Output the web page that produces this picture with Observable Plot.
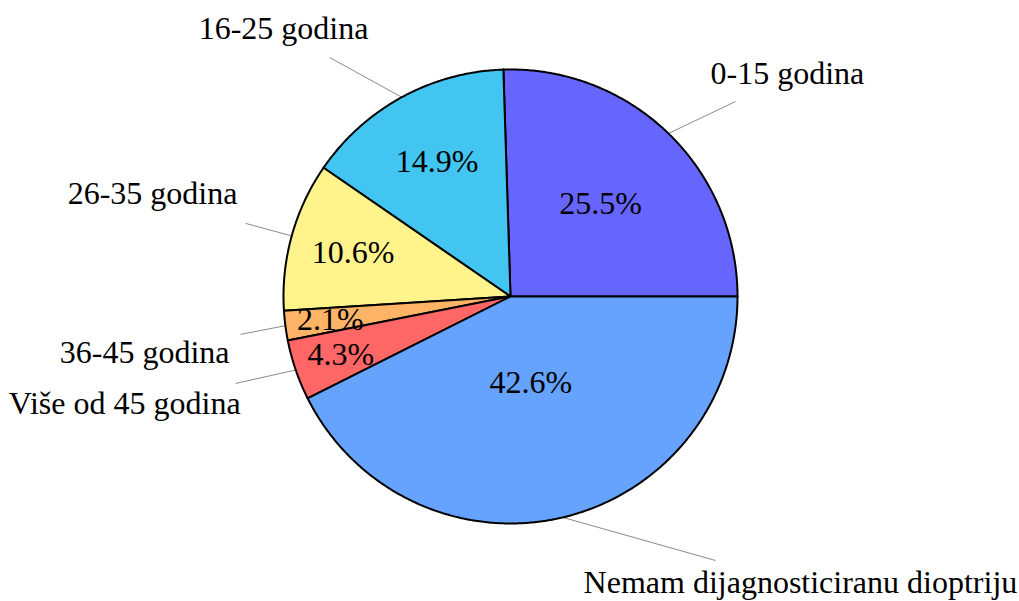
<!DOCTYPE html>
<html><head><meta charset="utf-8">
<script src="https://cdn.jsdelivr.net/npm/d3@7"></script>
<script src="https://cdn.jsdelivr.net/npm/@observablehq/plot@0.6"></script>
<style>html,body{margin:0;padding:0;background:#fff;} #chart svg{display:block}</style>
</head><body><div id="chart"></div>
<script>
// ---- data ----
const categories = ["0-15 godina","16-25 godina","26-35 godina","36-45 godina","Više od 45 godina","Nemam dijagnosticiranu dioptriju"];
const shares = [25.5, 14.9, 10.6, 2.1, 4.3, 42.6];
const colors = ["#6666ff","#42c6f1","#fff48c","#ffb366","#ff6666","#66a3ff"];

// ---- layout (in units of pie radius) ----
const W = 1019, H = 601, R = 227, CX = 510, CY = 296;
const FONT = "'Liberation Serif', 'Times New Roman', serif";
const FS = 32;
const pctRadius = [0.57, 0.675, 0.72, 0.80, 0.79, 0.39];
const leaderEnd = [[0.991,0.859],[-0.797,1.053],[-1.167,0.322],[-1.189,-0.167],[-1.211,-0.383],[0.903,-1.163]];
const labelPos = [[0.881,0.982],[-0.626,1.181],[-1.203,0.454],[-1.238,-0.247],[-1.189,-0.471],[0.322,-1.260]];
const labelAnchor = ["start","end","end","end","end","start"];

let cum = 0;
const slices = shares.map((v, i) => {
  const a0 = cum / 100 * 2 * Math.PI; cum += v;
  const a1 = cum / 100 * 2 * Math.PI;
  return {i, cat: categories[i], v, a0, a1, mid: (a0 + a1) / 2};
});
const pts = [];
for (const s of slices) {
  pts.push({cat: s.cat, x: 0, y: 0});
  const n = Math.max(2, Math.ceil((s.a1 - s.a0) / (Math.PI / 360)));
  for (let k = 0; k <= n; k++) {
    const a = s.a0 + (s.a1 - s.a0) * k / n;
    pts.push({cat: s.cat, x: Math.cos(a), y: Math.sin(a)});
  }
}

const chart = Plot.plot({
  width: W, height: H, margin: 0,
  x: {domain: [-CX / R, (W - CX) / R], axis: null},
  y: {domain: [-(H - CY) / R, CY / R], axis: null},
  color: {domain: categories, range: colors},
  style: {fontFamily: FONT, background: "#fff"},
  marks: [
    Plot.link(slices, {
      x1: d => Math.cos(d.mid), y1: d => Math.sin(d.mid),
      x2: d => leaderEnd[d.i][0], y2: d => leaderEnd[d.i][1],
      stroke: "#8a8a8a", strokeWidth: 1
    }),
    Plot.line(pts, {x: "x", y: "y", z: "cat", fill: "cat", stroke: "black", strokeWidth: 2, curve: "linear-closed", strokeLinejoin: "round"}),
    Plot.text(slices, {
      x: d => pctRadius[d.i] * Math.cos(d.mid), y: d => pctRadius[d.i] * Math.sin(d.mid),
      text: d => d.v.toFixed(1) + "%", fontSize: FS, fill: "black"
    }),
    Plot.text(slices.filter(d => labelAnchor[d.i] === "start"), {
      x: d => labelPos[d.i][0], y: d => labelPos[d.i][1], text: "cat",
      textAnchor: "start", fontSize: FS, fill: "black"
    }),
    Plot.text(slices.filter(d => labelAnchor[d.i] === "end"), {
      x: d => labelPos[d.i][0], y: d => labelPos[d.i][1], text: "cat",
      textAnchor: "end", fontSize: FS, fill: "black"
    })
  ]
});
document.getElementById("chart").append(chart);
</script>
</body></html>
